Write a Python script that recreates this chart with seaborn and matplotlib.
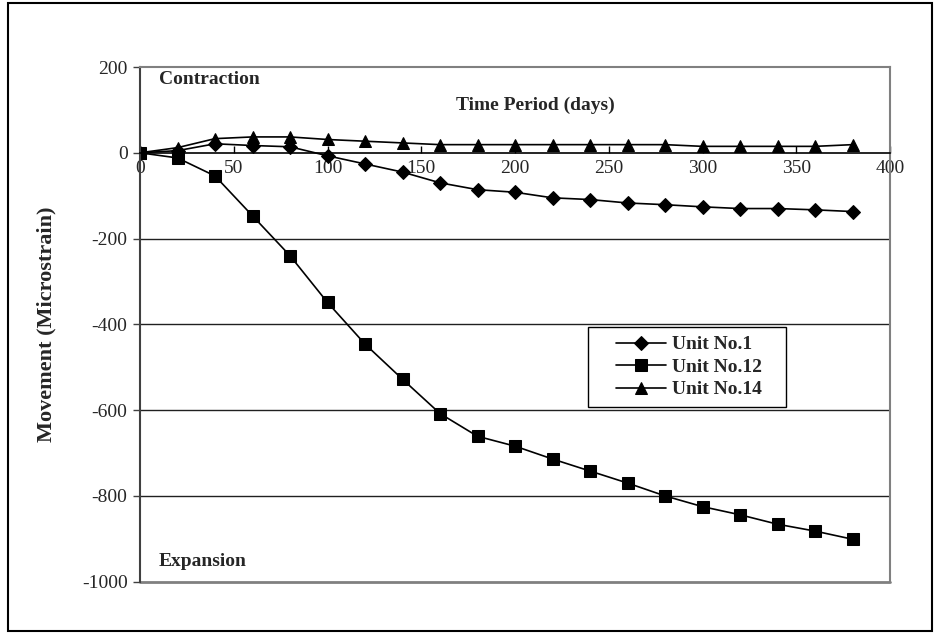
import matplotlib
matplotlib.use("Agg")
import matplotlib.pyplot as plt
import seaborn as sns
import pandas as pd
from matplotlib.patches import Rectangle

# Datos
dias = [0, 20, 40, 60, 80, 100, 120, 140, 160, 180,
        200, 220, 240, 260, 280, 300, 320, 340, 360, 380]
unidad_1 = [0, 5, 21, 17, 14, -7, -26, -45, -70, -86,
            -92, -105, -109, -117, -121, -126, -130, -130, -133, -137]
unidad_12 = [0, -12, -54, -147, -240, -349, -446, -528, -608, -661,
             -684, -714, -742, -770, -800, -825, -844, -866, -882, -901]
unidad_14 = [0, 12, 33, 37, 37, 31, 27, 23, 19, 19,
             19, 19, 19, 19, 19, 15, 15, 15, 15, 19]
series = ["Unit No.1", "Unit No.12", "Unit No.14"]
x_ticks = [0, 50, 100, 150, 200, 250, 300, 350, 400]
y_ticks = [200, 0, -200, -400, -600, -800, -1000]

df = pd.DataFrame({
    "dias": dias * 3,
    "valor": unidad_1 + unidad_12 + unidad_14,
    "serie": [series[0]] * len(dias) + [series[1]] * len(dias) + [series[2]] * len(dias),
})

sns.set_style("white")
plt.rcParams["font.family"] = ["Liberation Serif", "DejaVu Serif"]
plt.rcParams["axes.unicode_minus"] = False

fig = plt.figure(figsize=(9.36, 6.34), dpi=100)
ax = fig.add_axes([0.1496, 0.0825, 0.8013, 0.8118])

tam_marcadores = [7, 8.5, 8.5]
sns.lineplot(data=df, x="dias", y="valor", hue="serie", style="serie",
             palette=["black"] * 3, markers={"Unit No.1": "D", "Unit No.12": "s", "Unit No.14": "^"},
             dashes=False, linewidth=1.2, markeredgecolor="black", ax=ax,
             legend=True)
for line, ms in zip(ax.lines, tam_marcadores):
    line.set_markersize(ms)

ax.set_xlim(0, 400)
ax.set_ylim(-1000, 200)
ax.set_xticks(x_ticks)
ax.set_yticks(y_ticks)
ax.set_xlabel("")
ax.set_ylabel("")

# lineas de cuadricula
for y in [-200, -400, -600, -800]:
    ax.axhline(y, color="#202020", lw=1.0, zorder=0)

# marco del area de trazado
for s in ["top", "right", "bottom"]:
    ax.spines[s].set_color("#808080")
    ax.spines[s].set_linewidth(1.5)
ax.spines["left"].set_color("#404040")
ax.spines["left"].set_linewidth(1.5)
ax.spines["bottom"].set_position(("data", 0))
ax.spines["bottom"].set_color("black")
ax.spines["bottom"].set_linewidth(1.2)
ax.axhline(-1000, color="#808080", lw=2, clip_on=False, zorder=1)

ax.tick_params(axis="y", direction="out", length=5, width=1, color="#404040",
               labelsize=14, pad=4, left=True)
ax.tick_params(axis="x", direction="in", length=5, width=1, color="black",
               labelsize=14, pad=5, bottom=True)

ax.text(0.025, 0.975, "Contraction", transform=ax.transAxes, fontsize=14,
        fontweight="bold", ha="left", va="center")
ax.text(0.527, 0.926, "Time Period (days)", transform=ax.transAxes, fontsize=14,
        fontweight="bold", ha="center", va="center")
ax.text(0.025, 0.040, "Expansion", transform=ax.transAxes, fontsize=14,
        fontweight="bold", ha="left", va="center")
fig.text(0.05, 0.489, "Movement (Microstrain)", rotation=90, fontsize=16,
         fontweight="bold", ha="center", va="center")

# leyenda: marco dibujado aparte para imitar el relleno de Excel
leg = ax.legend(loc="center", bbox_to_anchor=(0.732, 0.417), borderaxespad=0,
                frameon=False, prop={"weight": "bold", "size": 14},
                handlelength=2.6, handletextpad=0.3, labelspacing=0.25, borderpad=0.2)
for h, ms in zip(leg.legend_handles, tam_marcadores):
    h.set_markersize(ms)
ax.add_patch(Rectangle((0.597, 0.34), 0.264, 0.155, transform=ax.transAxes,
                       fill=True, facecolor="white", edgecolor="black", lw=1.0, zorder=4))
leg.set_zorder(5)

# borde de la figura
fig.patches.append(Rectangle((0.009, 0.005), 0.987, 0.99, transform=fig.transFigure,
                             fill=False, edgecolor="black", lw=1.5))

fig.savefig("out.png", dpi=100)
